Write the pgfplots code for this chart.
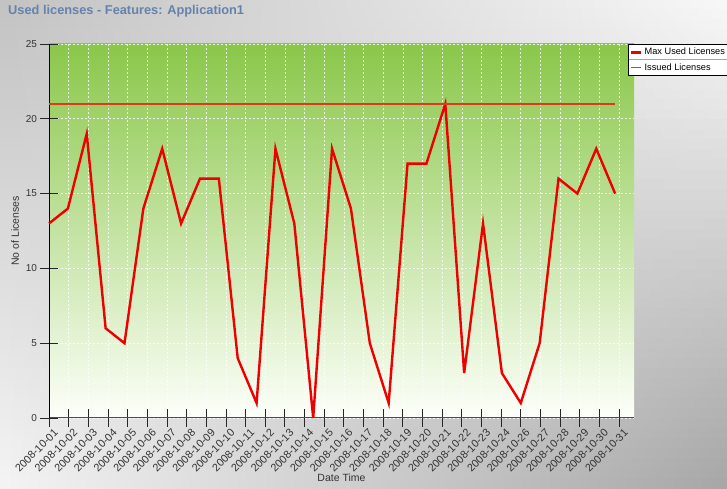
\documentclass[border=0pt]{standalone}
\usepackage{fontspec}
\setmainfont{Liberation Sans}
\usepackage{pgfplots}
\pgfplotsset{compat=1.18}
\definecolor{titleblue}{RGB}{102,130,172}
\definecolor{plottop}{RGB}{138,199,74}
\definecolor{plotbot}{RGB}{253,255,250}
\definecolor{maxred}{RGB}{238,0,0}
\definecolor{issuedc}{RGB}{228,55,30}
\definecolor{bgTL}{RGB}{194,194,194}
\definecolor{bgTR}{RGB}{248,248,248}
\definecolor{bgBL}{RGB}{244,244,244}
\definecolor{bgBR}{RGB}{166,166,166}
\begin{document}
\begin{tikzpicture}[x=1pt,y=1pt]
\foreach \i in {0,...,48}{
  \pgfmathtruncatemacro{\p}{round(2.0408*\i+1.0204)}
  \pgfmathsetmacro{\ytop}{489.4-\i*9.9796}
  \pgfmathsetmacro{\ybot}{489-\i*9.9796-10.38}
  \shade[left color=bgBL!\p!bgTL, right color=bgBR!\p!bgTR] (0,\ybot) rectangle (727,\ytop);
}
\node[anchor=north west, font=\fontsize{12.8}{14}\selectfont\bfseries, text=titleblue, inner sep=0pt] at (8,484) {Used licenses - Features: Application1};
\begin{axis}[
  at={(49pt,71pt)}, anchor=south west,
  scale only axis, width=585pt, height=374pt,
  xmin=0, xmax=31, ymin=0, ymax=25,
  axis lines*=left,
  x axis line style={black!70, line width=1pt},
  y axis line style={black, line width=0.9pt},
  xtick={0,1.0417,2.0833,3.125,4.1667,5.2083,6.25,7.2917,8.3333,9.375,10.4167,11.4583,12.5,13.5417,14.5833,15.625,16.6667,17.7083,18.75,19.7917,20.8333,21.875,22.9167,23.9583,25,26.0417,27.0833,28.125,29.1667,30.2083},
  xticklabels={2008-10-01,2008-10-02,2008-10-03,2008-10-04,2008-10-05,2008-10-06,2008-10-07,2008-10-08,2008-10-09,2008-10-10,2008-10-11,2008-10-12,2008-10-13,2008-10-14,2008-10-15,2008-10-16,2008-10-17,2008-10-18,2008-10-19,2008-10-20,2008-10-21,2008-10-22,2008-10-23,2008-10-24,2008-10-26,2008-10-27,2008-10-28,2008-10-29,2008-10-30,2008-10-31},
  minor x tick num=1,
  ytick={0,5,10,15,20,25},
  tick align=center,
  major tick length=17pt, minor tick length=6pt,
  tick style={black!85, line width=0.8pt},
  minor tick style={black!70, line width=0.7pt},
  /pgf/number format/assume math mode=true,
  xticklabel style={rotate=45, anchor=north east, font=\fontsize{10.8}{12}\selectfont, text=black!80, inner sep=1pt, xshift=3pt, yshift=-3pt},
  yticklabel style={font=\fontsize{10}{12}\selectfont, text=black!80},
  xlabel={Date Time}, ylabel={No of Licenses},
  label style={font=\fontsize{10.5}{12}\selectfont, text=black!80},
  xlabel style={yshift=4pt},
  grid=major,
  major grid style={white, dash pattern=on 2pt off 2pt, line width=0.6pt, opacity=0.8},
  axis background/.style={top color=plottop, bottom color=plotbot},
  legend style={at={(axis description cs:0.9897,1)}, anchor=north west, draw=black, line width=0.6pt, fill=white, font=\fontsize{9.2}{10}\selectfont, legend cell align=left, inner sep=2pt, row sep=3pt},
  legend image code/.code={\draw[#1] (0pt,0pt) -- (10pt,0pt);},
  clip=false,
]
\addplot[maxred, line width=2.4pt] coordinates {
(0,13)(1,14)(2,19)(3,6)(4,5)(5,14)(6,18)(7,13)(8,16)(9,16)
(10,4)(11,1)(12,18)(13,13)(14,0)(15,18)(16,14)(17,5)(18,1)(19,17)
(20,17)(21,21)(22,3)(23,13)(24,3)(25,1)(26,5)(27,16)(28,15)(29,18)(30,15)};
\addlegendentry{Max Used Licenses}
\addplot[issuedc, line width=1.7pt] coordinates {(0,21)(30,21)};
\addlegendentry{Issued Licenses}
\end{axis}
\draw[black!35, line width=0.5pt] (628.5,429.5) -- (727,429.5);
\pgfresetboundingbox
\path[use as bounding box] (0,0) rectangle (727,489);
\end{tikzpicture}
\end{document}
